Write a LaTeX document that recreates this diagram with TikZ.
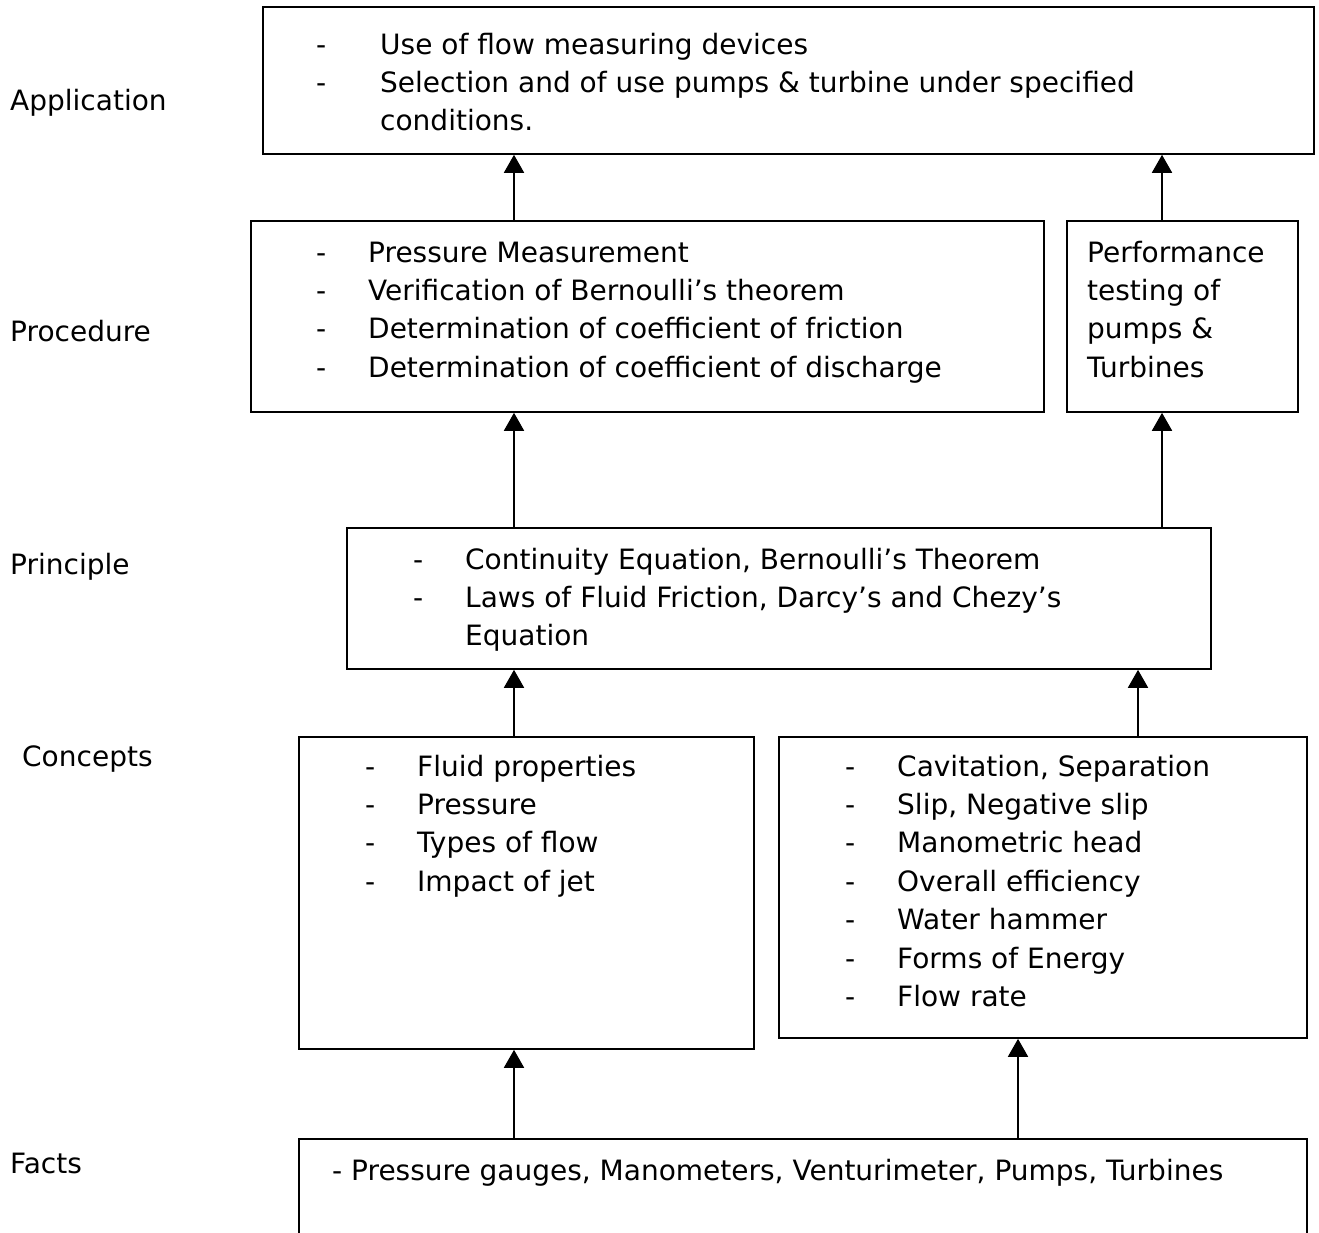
\documentclass[tikz,border=0pt]{standalone}
\usepackage{fontspec}
\setmainfont{DejaVu Sans}
\usetikzlibrary{arrows.meta}

% dashed list lines inside the boxes
\newlength\dgap
\setlength\dgap{52pt}
\newcommand\ditem[1]{\makebox[\dgap][l]{-}#1}
\newcommand\dcont[1]{\hspace*{\dgap}#1}
\newcommand\dlist[1]{\begin{tabular}[t]{@{}l@{}}#1\end{tabular}}

\tikzset{
  level box/.style={draw, line width=1.8pt, anchor=north west, inner sep=0pt},
  level text/.style={anchor=base west, inner sep=0pt, font=\fontsize{28}{38.4}\selectfont},
  up arrow/.style={line width=1.8pt, -{Triangle[width=20pt,length=18pt]}}
}

\begin{document}
\begin{tikzpicture}[x=1pt,y=-1pt]
  \useasboundingbox (0,0) rectangle (1319,1232);
  \clip (0,0) rectangle (1319,1232);

  % level names
  \node[level text] (lapp) at (10,110) {Application};
  \node[level text] (lproc) at (10,341) {Procedure};
  \node[level text] (lprinc) at (10,574) {Principle};
  \node[level text] (lconc) at (22,766) {Concepts};
  \node[level text] (lfacts) at (10,1173) {Facts};

  % boxes
  \node[level box, minimum width=1051pt, minimum height=147pt] (app) at (262,6) {};
  \node[level box, minimum width=793pt, minimum height=191pt] (proc) at (250,220) {};
  \node[level box, minimum width=231pt, minimum height=191pt] (perf) at (1066,220) {};
  \node[level box, minimum width=864pt, minimum height=141pt] (princ) at (346,527) {};
  \node[level box, minimum width=455pt, minimum height=312pt] (concl) at (298,736) {};
  \node[level box, minimum width=528pt, minimum height=301pt] (concr) at (778,736) {};
  \node[level box, minimum width=1008pt, minimum height=130pt] (facts) at (298,1138) {};

  % box texts
  \node[level text, execute at begin node={\setlength\dgap{64pt}}] (apptxt) at (316,54) {\dlist{
    \ditem{Use of flow measuring devices}\\
    \ditem{Selection and of use pumps \& turbine under specified}\\
    \dcont{conditions.}}};
  \node[level text] (proctxt) at (316,262) {\dlist{
    \ditem{Pressure Measurement}\\
    \ditem{Verification of Bernoulli’s theorem}\\
    \ditem{Determination of coefficient of friction}\\
    \ditem{Determination of coefficient of discharge}}};
  \node[level text] (perftxt) at (1087,262) {\dlist{
    Performance\\ testing of\\ pumps \&\\ Turbines}};
  \node[level text] (princtxt) at (413,569) {\dlist{
    \ditem{Continuity Equation, Bernoulli’s Theorem}\\
    \ditem{Laws of Fluid Friction, Darcy’s and Chezy’s}\\
    \dcont{Equation}}};
  \node[level text] (concltxt) at (365,776) {\dlist{
    \ditem{Fluid properties}\\
    \ditem{Pressure}\\
    \ditem{Types of flow}\\
    \ditem{Impact of jet}}};
  \node[level text] (concrtxt) at (845,776) {\dlist{
    \ditem{Cavitation, Separation}\\
    \ditem{Slip, Negative slip}\\
    \ditem{Manometric head}\\
    \ditem{Overall efficiency}\\
    \ditem{Water hammer}\\
    \ditem{Forms of Energy}\\
    \ditem{Flow rate}}};
  \node[level text] (factstxt) at (332,1180) {- Pressure gauges, Manometers, Venturimeter, Pumps, Turbines};

  % arrow columns
  \coordinate (colA) at (514,0);
  \coordinate (colB) at (1162,0);
  \coordinate (colC) at (1138,0);
  \coordinate (colD) at (1018,0);

  % arrows
  \draw[up arrow] (colA |- proc.north) -- (colA |- app.south);
  \draw[up arrow] (colB |- perf.north) -- (colB |- app.south);
  \draw[up arrow] (colA |- princ.north) -- (colA |- proc.south);
  \draw[up arrow] (colB |- princ.north) -- (colB |- perf.south);
  \draw[up arrow] (colA |- concl.north) -- (colA |- princ.south);
  \draw[up arrow] (colC |- concr.north) -- (colC |- princ.south);
  \draw[up arrow] (colA |- facts.north) -- (colA |- concl.south);
  \draw[up arrow] (colD |- facts.north) -- (colD |- concr.south);
\end{tikzpicture}
\end{document}
